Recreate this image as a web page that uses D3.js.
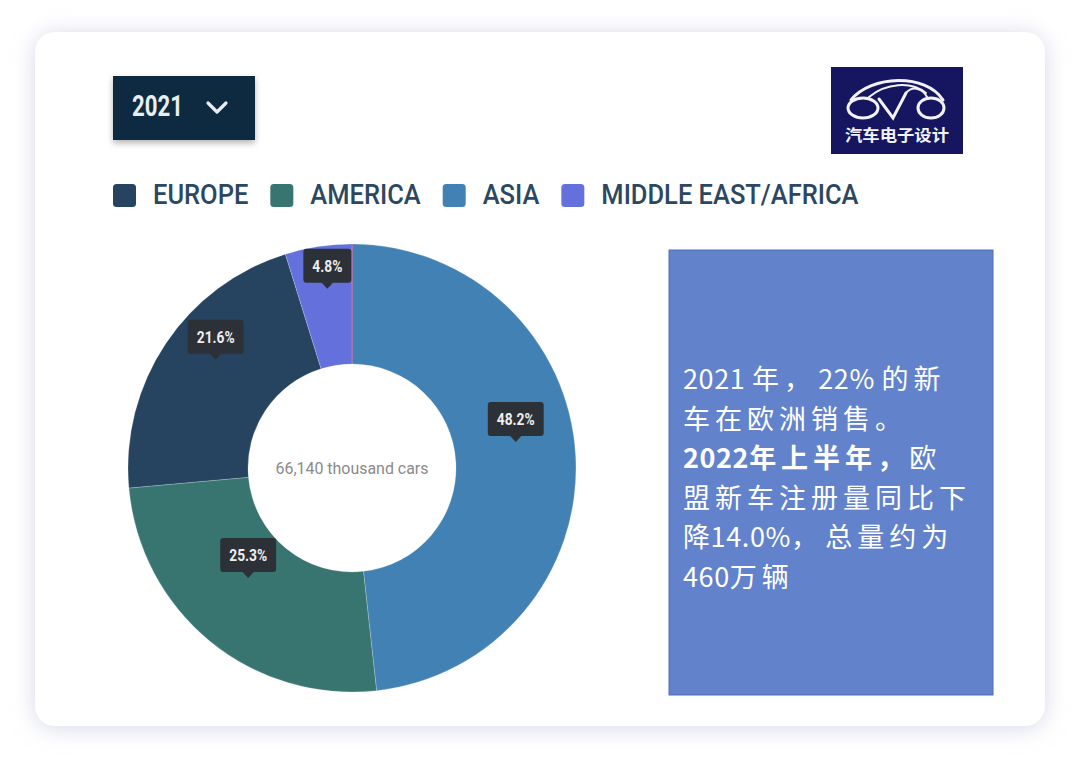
<!DOCTYPE html>
<html><head><meta charset="utf-8">
<script src="https://cdn.jsdelivr.net/npm/d3@7"></script>
<style>html,body{margin:0;padding:0;background:#fff;} svg{display:block;}</style>
</head><body>
<script>
// ---- data ----
const categories = ["EUROPE", "AMERICA", "ASIA", "MIDDLE EAST/AFRICA"];
const shares = [21.6, 25.3, 48.2, 4.8];
const colors = ["#26445f", "#387470", "#4281b3", "#6470dc"];
const sliceOrder = ["ASIA", "AMERICA", "EUROPE", "MIDDLE EAST/AFRICA"];
const yearLabel = "2021";
const totalLabel = "66,140 thousand cars";
const logoText = "汽车电子设计";
const noteLines = [
  [{t: "2021 年， 22% 的新", b: false}],
  [{t: "车在欧洲销售。", b: false}],
  [{t: "2022年上半年，", b: true}, {t: "欧", b: false}],
  [{t: "盟新车注册量同比下", b: false}],
  [{t: "降14.0%， 总量约为", b: false}],
  [{t: "460万辆", b: false}]
];

const W = 1080, H = 763;
const svg = d3.select("body").append("svg").attr("width", W).attr("height", H);
const defs = svg.append("defs");
const f1 = defs.append("filter").attr("id", "cardShadow").attr("x", "-10%").attr("y", "-10%").attr("width", "120%").attr("height", "120%");
f1.append("feDropShadow").attr("dx", 0).attr("dy", 2).attr("stdDeviation", 11).attr("flood-color", "#b4b8d8").attr("flood-opacity", 0.55);
const f2 = defs.append("filter").attr("id", "ddShadow").attr("x", "-20%").attr("y", "-20%").attr("width", "140%").attr("height", "160%");
f2.append("feDropShadow").attr("dx", 0).attr("dy", 3).attr("stdDeviation", 3).attr("flood-color", "#000").attr("flood-opacity", 0.3);

// card
svg.append("rect").attr("x", 35).attr("y", 32).attr("width", 1010).attr("height", 694)
  .attr("rx", 20).attr("fill", "#fff").attr("filter", "url(#cardShadow)");

// dropdown
const dd = svg.append("g").attr("transform", "translate(113,76)");
dd.append("rect").attr("width", 142).attr("height", 64).attr("fill", "#112a3f").attr("filter", "url(#ddShadow)");
dd.append("text").attr("x", 19).attr("y", 40).text(yearLabel)
  .attr("font-family", "Roboto").attr("font-weight", 700).attr("font-size", 29)
  .attr("fill", "#e9edf1").attr("textLength", 51).attr("lengthAdjust", "spacingAndGlyphs");
dd.append("path").attr("d", "M95,27 L104,36 L113,27").attr("fill", "none")
  .attr("stroke", "#e9edf1").attr("stroke-width", 3.2).attr("stroke-linecap", "round").attr("stroke-linejoin", "round");

// logo
const lg = svg.append("g").attr("transform", "translate(831,67)");
lg.append("rect").attr("width", 132).attr("height", 87).attr("fill", "#15165f");
const lp = lg.append("g").attr("fill", "none").attr("stroke", "#f2f2f8").attr("stroke-linecap", "round");
lp.append("ellipse").attr("cx", 32).attr("cy", 41).attr("rx", 15).attr("ry", 10).attr("stroke-width", 3);
lp.append("ellipse").attr("cx", 100).attr("cy", 41).attr("rx", 13).attr("ry", 10).attr("stroke-width", 3);
lp.append("path").attr("d", "M20,33 C40,8 95,6 112,33").attr("stroke-width", 3);
lp.append("path").attr("d", "M38,30 C55,16 80,14 95,26").attr("stroke-width", 2);
lp.append("path").attr("d", "M48,32 L62,51 L75,26").attr("stroke-width", 3);
lp.append("path").attr("d", "M75,26 C82,18 92,22 96,30").attr("stroke-width", 2);
lg.append("text").attr("x", 66).attr("y", 74).attr("text-anchor", "middle").text(logoText)
  .attr("font-family", "Noto Sans CJK SC").attr("font-weight", 700).attr("font-size", 16)
  .attr("fill", "#f2f2f8").attr("textLength", 104).attr("lengthAdjust", "spacingAndGlyphs");

// legend
const color = d3.scaleOrdinal().domain(categories).range(colors);
const legend = svg.append("g").attr("transform", "translate(113,184)");
let lx = 0;
categories.forEach((c) => {
  const g = legend.append("g").attr("transform", `translate(${lx},0)`);
  g.append("rect").attr("width", 23).attr("height", 23).attr("rx", 3.5).attr("fill", color(c));
  const t = g.append("text").attr("x", 40).attr("y", 20).text(c)
    .attr("font-family", "Roboto").attr("font-weight", 500).attr("font-size", 28).attr("fill", "#2c4760");
  const w = t.node().getComputedTextLength() * 0.91;
  t.attr("textLength", w).attr("lengthAdjust", "spacingAndGlyphs");
  lx += 40 + w + 22;
});

// donut
const cx = 352, cy = 468, R = 224, r0 = 104;
const data = sliceOrder.map(c => ({cat: c, v: shares[categories.indexOf(c)]}));
const pie = d3.pie().sort(null).value(d => d.v);
const arcs = pie(data);
const arc = d3.arc().innerRadius(r0).outerRadius(R);
const chart = svg.append("g").attr("transform", `translate(${cx},${cy})`);
chart.selectAll("path.slice").data(arcs).join("path").attr("class", "slice")
  .attr("d", arc).attr("fill", d => color(d.data.cat))
  .attr("stroke", "#ffffff").attr("stroke-opacity", 0.35).attr("stroke-width", 0.6);
chart.append("line").attr("x1", 0).attr("x2", 0).attr("y1", -R).attr("y2", -r0 - 2)
  .attr("stroke", "#d9569c").attr("stroke-width", 1);
chart.append("text").attr("x", 0).attr("y", 0).attr("dy", "0.35em").attr("text-anchor", "middle")
  .text(totalLabel).attr("font-family", "Roboto").attr("font-size", 16).attr("fill", "#8a8a8a")
  .attr("textLength", 153).attr("lengthAdjust", "spacingAndGlyphs");

// labels (tooltips)
arcs.forEach(d => {
  const [x, y] = arc.centroid(d);
  const g = chart.append("g").attr("transform", `translate(${x},${y - 17})`);
  const txt = d3.format(".1f")(d.data.v) + "%";
  const bh = 34;
  const t = g.append("text").attr("text-anchor", "middle").attr("y", -6 - bh / 2).attr("dy", "0.36em")
    .text(txt).attr("font-family", "Roboto").attr("font-weight", 700).attr("font-size", 16).attr("fill", "#eeeeee");
  const tw = t.node().getComputedTextLength() * 0.86;
  t.attr("textLength", tw).attr("lengthAdjust", "spacingAndGlyphs");
  const bw = tw + 18;
  g.insert("rect", "text").attr("x", -bw / 2).attr("y", -6 - bh).attr("width", bw).attr("height", bh)
    .attr("rx", 3).attr("fill", "#2c3037");
  g.insert("path", "text").attr("d", "M-6,-6.5 L6,-6.5 L0,0 Z").attr("fill", "#2c3037");
});

// note panel
const np = svg.append("g").attr("transform", "translate(669,250)");
np.append("rect").attr("width", 324).attr("height", 445).attr("fill", "#6282cc")
  .attr("stroke", "#4f6db5").attr("stroke-width", 1);
const note = np.append("text").attr("font-family", "Noto Sans CJK SC").attr("font-size", 27).attr("fill", "#ffffff");
const cjkClass = "\u3000-\u303f\u3400-\u9fff\uff00-\uffef";
const cjkRe = new RegExp("[" + cjkClass + "]");
const runRe = new RegExp("[" + cjkClass + "]+|[^" + cjkClass + "]+", "g");
noteLines.forEach((line, i) => {
  let first = true;
  const pieces = [];
  line.forEach(s => s.t.match(runRe).forEach(run => pieces.push({run, b: s.b})));
  pieces.forEach((p, k) => {
    const isCjk = cjkRe.test(p.run);
    const nextLatin = k < pieces.length - 1 && !cjkRe.test(pieces[k + 1].run);
    const parts = (isCjk && nextLatin && p.run.length > 1)
      ? [[p.run.slice(0, -1), 5], [p.run.slice(-1), 0.6]]
      : [[p.run, isCjk ? (nextLatin ? 0.6 : 5) : 0.6]];
    parts.forEach(([txt, ls]) => {
      const ts = note.append("tspan").text(txt).attr("font-weight", p.b ? 700 : 400).attr("letter-spacing", ls);
      if (first) { ts.attr("x", 14).attr("y", 139 + i * 39.6); first = false; }
    });
  });
});
</script>
</body></html>
